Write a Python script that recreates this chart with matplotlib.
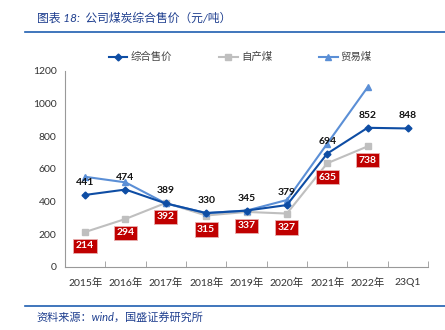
import matplotlib
matplotlib.use("Agg")
import matplotlib.pyplot as plt
import numpy as np

plt.rcParams['font.family'] = ['Lato', 'Noto Sans CJK SC', 'DejaVu Sans']

categories = ['2015年', '2016年', '2017年', '2018年', '2019年', '2020年', '2021年', '2022年', '23Q1']
overall = [441, 474, 389, 330, 345, 379, 694, 852, 848]   # 综合售价
own = [214, 294, 392, 315, 337, 327, 635, 738]              # 自产煤
trade = [552, 518, 389, 330, 345, 410, 755, 1100]           # 贸易煤

c_overall = '#0E4DA4'
c_own = '#BFBFBF'
c_trade = '#5B8FD6'

fig = plt.figure(figsize=(4.45, 3.3), dpi=100)
ax = fig.add_axes([0.146, 0.191, 0.816, 0.594])

x = np.arange(len(categories))
ax.plot(x[:len(own)], own, color=c_own, lw=1.5, marker='s', ms=5, label='自产煤', zorder=2)
ax.plot(x[:len(trade)], trade, color=c_trade, lw=1.5, marker='^', ms=5, label='贸易煤', zorder=3)
ax.plot(x, overall, color=c_overall, lw=1.5, marker='D', ms=3.5, label='综合售价', zorder=4)

for xi, v in zip(x, overall):
    ax.annotate(str(v), (xi, v), xytext=(0, 9), textcoords='offset points',
                ha='center', va='center', fontsize=7.5, fontweight='bold', color='#111111', zorder=6)
for xi, v in zip(x, own):
    ax.annotate(str(v), (xi, v), xytext=(0, -10), textcoords='offset points',
                ha='center', va='center', fontsize=7.5, fontweight='bold', color='white', zorder=6,
                bbox=dict(boxstyle='square,pad=0.25', fc='#C00000', ec='#E8B0B0', lw=0.6))

ax.set_xlim(-0.5, len(categories) - 0.5)
ax.set_ylim(0, 1200)
ax.set_yticks(range(0, 1201, 200))
ax.set_xticks(x)
ax.set_xticklabels(categories)
ax.set_xticks(np.arange(-0.5, len(categories), 1), minor=True)
ax.tick_params(axis='x', which='major', length=0, labelsize=7.5, pad=8, colors='#333333')
ax.tick_params(axis='x', which='minor', length=4, direction='in', color='#999999')
ax.tick_params(axis='y', length=0, labelsize=7.5, colors='#333333', pad=6)
for s in ['top', 'right']:
    ax.spines[s].set_visible(False)
for s in ['left', 'bottom']:
    ax.spines[s].set_color('#999999')
    ax.spines[s].set_linewidth(0.8)

handles, labels = ax.get_legend_handles_labels()
order = [2, 0, 1]
fig.legend([handles[i] for i in order], [labels[i] for i in order], loc='center',
           bbox_to_anchor=(0.54, 0.827), ncol=3, frameon=False, fontsize=7.5,
           handlelength=1.8, columnspacing=4.5, handletextpad=0.3, labelcolor='#444444')

# title and source
fig.text(0.083, 0.947, '图表 18:  公司煤炭综合售价（元/吨）', fontsize=8.5, color='#1F3F8F',
         style='italic', va='center', ha='left')
fig.add_artist(plt.Line2D([0.057, 1.0], [0.902, 0.902], color='#1F5FB0', lw=1.2))
fig.add_artist(plt.Line2D([0.057, 1.0], [0.072, 0.072], color='#1F5FB0', lw=1.2))
fig.text(0.083, 0.040, '资料来源：wind，国盛证券研究所', fontsize=8, color='#1F3F8F',
         style='italic', va='center', ha='left')

fig.savefig('out.png', dpi=100)
